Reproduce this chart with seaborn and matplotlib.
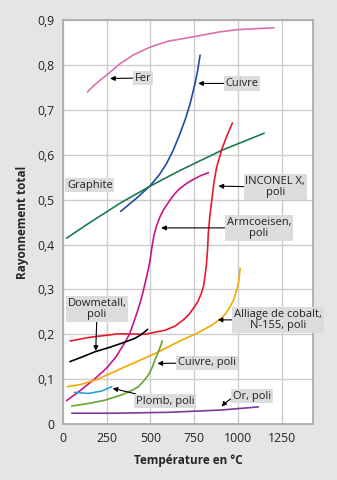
import matplotlib
matplotlib.use("Agg")
import matplotlib.pyplot as plt
import seaborn as sns
import pandas as pd

# Emissivity curves: temperature (°C) and total emissivity
fer_t = [140, 170, 212, 260, 326, 400, 498, 600, 746, 898, 1000, 1207]
fer_e = [0.740, 0.752, 0.766, 0.781, 0.803, 0.822, 0.840, 0.853, 0.863, 0.874, 0.879, 0.883]

cuivre_t = [330, 420, 498, 550, 593, 630, 669, 700, 727, 755, 770, 784]
cuivre_e = [0.474, 0.503, 0.531, 0.555, 0.581, 0.610, 0.647, 0.680, 0.714, 0.759, 0.788, 0.822]

graphite_t = [20, 150, 326, 498, 669, 908, 1150]
graphite_e = [0.414, 0.448, 0.492, 0.530, 0.565, 0.610, 0.648]

inconel_t = [40, 150, 317, 469, 584, 640, 688, 720, 746, 770, 790, 803, 812, 820, 826,
             831, 840, 851, 864, 879, 908, 940, 969]
inconel_e = [0.185, 0.193, 0.201, 0.200, 0.209, 0.218, 0.232, 0.244, 0.258, 0.272, 0.290,
             0.306, 0.330, 0.355, 0.385, 0.425, 0.465, 0.500, 0.540, 0.573, 0.612, 0.645,
             0.671]

armco_t = [20, 100, 180, 250, 300, 345, 380, 402, 425, 440, 455, 469, 485, 498, 508, 520,
           535, 555, 574, 610, 641, 669, 710, 750, 790, 832]
armco_e = [0.052, 0.075, 0.100, 0.125, 0.148, 0.176, 0.200, 0.224, 0.250, 0.269, 0.290,
           0.313, 0.340, 0.365, 0.393, 0.420, 0.442, 0.462, 0.477, 0.498, 0.514, 0.525,
           0.537, 0.546, 0.554, 0.560]

cobalt_t = [25, 100, 200, 336, 526, 669, 765, 850, 900, 930, 955, 975, 993, 1005, 1013]
cobalt_e = [0.083, 0.088, 0.100, 0.124, 0.157, 0.185, 0.202, 0.220, 0.234, 0.246, 0.261,
            0.276, 0.298, 0.318, 0.347]

dow_t = [40, 120, 183, 260, 336, 412, 450, 484]
dow_e = [0.139, 0.151, 0.161, 0.170, 0.180, 0.191, 0.200, 0.211]

cuivre_poli_t = [50, 150, 240, 336, 400, 431, 460, 488, 510, 526, 548, 568]
cuivre_poli_e = [0.040, 0.046, 0.053, 0.065, 0.076, 0.083, 0.095, 0.109, 0.126, 0.143,
                 0.163, 0.185]

plomb_t = [65, 145, 221, 278]
plomb_e = [0.0705, 0.068, 0.0735, 0.083]

or_t = [50, 300, 600, 900, 1117]
or_e = [0.024, 0.024, 0.026, 0.031, 0.038]

series = {
    "Fer": (fer_t, fer_e, "#dd6fb2"),
    "Cuivre": (cuivre_t, cuivre_e, "#1c4ea2"),
    "Graphite": (graphite_t, graphite_e, "#1f7a50"),
    "INCONEL X, poli": (inconel_t, inconel_e, "#e8192c"),
    "Armcoeisen, poli": (armco_t, armco_e, "#c8148c"),
    "Alliage de cobalt, N-155, poli": (cobalt_t, cobalt_e, "#f5a800"),
    "Dowmetall, poli": (dow_t, dow_e, "#000000"),
    "Cuivre, poli": (cuivre_poli_t, cuivre_poli_e, "#66a532"),
    "Plomb, poli": (plomb_t, plomb_e, "#2a9fd8"),
    "Or, poli": (or_t, or_e, "#7a3a96"),
}

frames = []
for name, (t, e, _) in series.items():
    frames.append(pd.DataFrame({"T": t, "E": e, "mat": name}))
df = pd.concat(frames, ignore_index=True)
palette = {k: v[2] for k, v in series.items()}

sns.set_style("white")
plt.rcParams["font.family"] = ["Open Sans", "DejaVu Sans"]

fig = plt.figure(figsize=(3.37, 4.8), dpi=100)
fig.patch.set_facecolor("#e5e5e5")
ax = fig.add_axes([0.187, 0.1167, 0.742, 0.8413])
ax.set_facecolor("white")

sns.lineplot(data=df, x="T", y="E", hue="mat", palette=palette, ax=ax,
             linewidth=1.2, legend=False, estimator=None)

ax.set_xlim(0, 1430)
ax.set_ylim(0, 0.9)
xt = [0, 250, 500, 750, 1000, 1250]
yt = [0, 0.1, 0.2, 0.3, 0.4, 0.5, 0.6, 0.7, 0.8, 0.9]
ax.set_xticks(xt)
ax.set_xticklabels([str(v) for v in xt])
ax.set_yticks(yt)
ax.set_yticklabels(["0"] + [f"{v:.1f}".replace(".", ",") for v in yt[1:]])
ax.grid(True, color="#cccccc", linewidth=1.0)
ax.set_axisbelow(True)
for s in ax.spines.values():
    s.set_color("#a8a8a8")
    s.set_linewidth(1.2)
ax.tick_params(axis="both", colors="#a8a8a8", labelcolor="#222222", labelsize=8.8,
               length=4, width=1.0, direction="out", pad=2)

ax.set_xlabel("Température en °C", fontsize=8.5, fontweight="bold", labelpad=6)
ax.set_ylabel("Rayonnement total", fontsize=8.5, fontweight="bold", labelpad=6)

box = dict(boxstyle="square,pad=0.15", facecolor="#dcdcdc", edgecolor="none")
arrow = dict(arrowstyle="-|>", color="black", lw=0.8, mutation_scale=7,
             shrinkA=0, shrinkB=0)
fs = 8

labels = [
    ("Fer", (458, 0.771), (269, 0.770), None),
    ("Cuivre", (1024, 0.759), (773, 0.759), None),
    ("INCONEL X,\npoli", (1213, 0.528), (889, 0.530), None),
    ("Armcoeisen,\npoli", (1121, 0.437), (561, 0.437), None),
    ("Dowmetall,\npoli", (195, 0.256), (187, 0.163), None),
    ("Alliage de cobalt,\nN-155, poli", (1230, 0.232), (885, 0.232), None),
    ("Cuivre, poli", (824, 0.136), (540, 0.135), None),
    ("Plomb, poli", (584, 0.051), (284, 0.0795), None),
    ("Or, poli", (1081, 0.062), (908, 0.0386), "arc3,rad=0.3"),
]
for txt, xytext, xy, conn in labels:
    ap = dict(arrow)
    if conn:
        ap["connectionstyle"] = conn
    ax.annotate(txt, xy=xy, xytext=xytext, ha="center", va="center",
                fontsize=fs, linespacing=1.0, bbox=box, arrowprops=ap,
                color="#222222")

ax.text(154, 0.532, "Graphite", ha="center", va="center", fontsize=fs,
        bbox=box, color="#222222")

fig.savefig("out.png", dpi=100, facecolor=fig.get_facecolor())
